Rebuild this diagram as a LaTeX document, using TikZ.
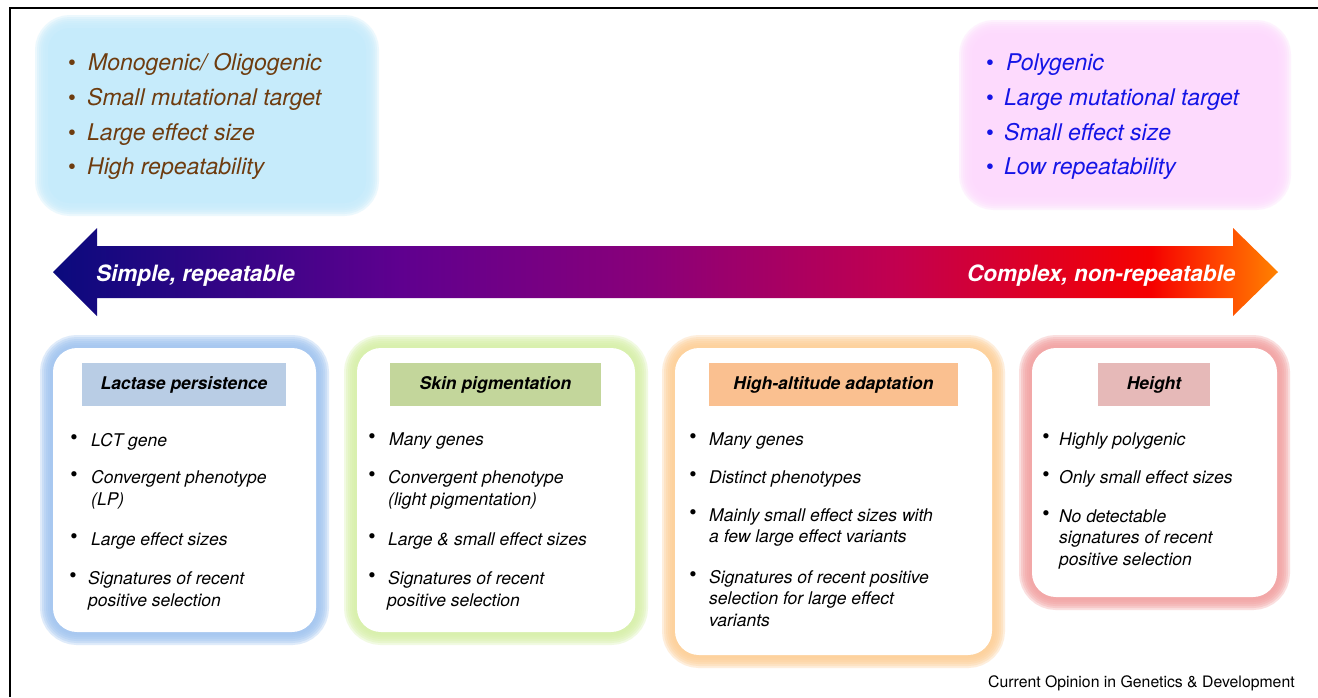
\documentclass[tikz,border=0pt]{standalone}
\usepackage{fontspec}
\setmainfont{TeX Gyre Heros}

% palette
\definecolor{topBlueFill}{RGB}{198,235,251}
\definecolor{topPinkFill}{RGB}{253,218,253}
\definecolor{brownText}{RGB}{110,60,15}
\definecolor{blueText}{RGB}{20,20,230}
\definecolor{glowBlue}{RGB}{160,196,240}
\definecolor{glowGreen}{RGB}{214,240,168}
\definecolor{glowOrange}{RGB}{253,206,150}
\definecolor{glowRed}{RGB}{242,160,160}
\definecolor{hdrBlue}{RGB}{185,205,229}
\definecolor{hdrGreen}{RGB}{195,214,155}
\definecolor{hdrOrange}{RGB}{250,192,144}
\definecolor{hdrRed}{RGB}{230,185,184}
% arrow spectrum
\definecolor{arrA}{RGB}{10,10,125}
\definecolor{arrB}{RGB}{95,0,143}
\definecolor{arrC}{RGB}{138,0,121}
\definecolor{arrD}{RGB}{195,0,78}
\definecolor{arrE}{RGB}{245,0,0}
\definecolor{arrF}{RGB}{255,70,0}
\definecolor{arrG}{RGB}{255,130,0}

\pgfdeclarehorizontalshading{spectrum}{100bp}{color(0bp)=(arrA); color(25bp)=(arrA); color(39.2bp)=(arrB); color(49.4bp)=(arrC); color(59.6bp)=(arrD); color(69.8bp)=(arrE); color(72.6bp)=(arrF); color(75bp)=(arrG); color(100bp)=(arrG)}

% soft halo round a rounded box: #1 colour, #2 #3 corners, #4 radius
\newcommand\halobox[4]{%
  \foreach \w in {26,22,18,14,10,6}{%
    \draw[line width=\w pt, #1, opacity=0.33, rounded corners=#4] #2 rectangle #3;}%
}

\begin{document}
\begin{tikzpicture}[x=1pt,y=-1pt,
  toptxt/.style={anchor=base west, inner sep=0pt, font=\itshape\fontsize{23}{27}\selectfont},
  topdot/.style={anchor=base, inner sep=0pt, font=\fontsize{22.5}{27}\selectfont},
  btxt/.style={anchor=base west, inner sep=0pt, font=\itshape\fontsize{17.5}{21}\selectfont},
  bdot/.style={anchor=base, inner sep=0pt, font=\fontsize{21}{24}\selectfont},
  header/.style={inner sep=0pt, minimum height=43pt, text height=13pt, text depth=4pt,
    font=\bfseries\itshape\fontsize{17.5}{21}\selectfont},
  arrtxt/.style={anchor=base west, inner sep=0pt, text=white,
    font=\bfseries\itshape\fontsize{22.5}{27}\selectfont}]

\useasboundingbox (0,0) rectangle (1318,697);
\fill[white] (0,0) rectangle (1318,697);

% frame
\draw[line width=1.3pt] (10,697) -- (10,8) -- (1318,8);

% ---- upper summary boxes
\halobox{topBlueFill}{(48,28)}{(366,203)}{22pt}
\fill[topBlueFill, rounded corners=22pt] (48,28) rectangle (366,203);
\halobox{topPinkFill}{(972,33)}{(1278,197)}{22pt}
\fill[topPinkFill, rounded corners=22pt] (972,33) rectangle (1278,197);

\begin{scope}[text=brownText]
\node[topdot] (ld1) at (72,70) {•};
\node[toptxt] (lt1) at (88,70) {Monogenic/ Oligogenic};
\node[topdot] (ld2) at (72,105) {•};
\node[toptxt] (lt2) at (87,105) {Small mutational target};
\node[topdot] (ld3) at (72,140) {•};
\node[toptxt] (lt3) at (87,140) {Large effect size};
\node[topdot] (ld4) at (72,174) {•};
\node[toptxt] (lt4) at (87,174) {High repeatability};
\end{scope}

\begin{scope}[text=blueText]
\node[topdot] (rd1) at (990,70) {•};
\node[toptxt] (rt1) at (1006,70) {Polygenic};
\node[topdot] (rd2) at (990,105) {•};
\node[toptxt] (rt2) at (1004,105) {Large mutational target};
\node[topdot] (rd3) at (990,140) {•};
\node[toptxt] (rt3) at (1004,140) {Small effect size};
\node[topdot] (rd4) at (990,174) {•};
\node[toptxt] (rt4) at (1004,174) {Low repeatability};
\end{scope}

% ---- double-headed spectrum arrow
\shade[shading=spectrum] (53,272) -- (97,228) -- (97,246) -- (1233,246) -- (1233,228)
  -- (1278,272) -- (1233,316) -- (1233,298) -- (97,298) -- (97,316) -- cycle;
\node[arrtxt] (simple) at (96,281) {Simple, repeatable};
\node[arrtxt] (complex) at (967,281) {Complex, non-repeatable};

% ---- trait boxes
\halobox{glowBlue}{(53,348)}{(316,632)}{24pt}
\fill[white, rounded corners=24pt] (53,348) rectangle (316,632);
\halobox{glowGreen}{(357,348)}{(635,632)}{24pt}
\fill[white, rounded corners=24pt] (357,348) rectangle (635,632);
\halobox{glowOrange}{(675,348)}{(992,655)}{24pt}
\fill[white, rounded corners=24pt] (675,348) rectangle (992,655);
\halobox{glowRed}{(1032,348)}{(1277,597)}{24pt}
\fill[white, rounded corners=24pt] (1032,348) rectangle (1277,597);

\node[header, fill=hdrBlue, minimum width=204pt] (hLact) at (184,384.5) {Lactase persistence};
\node[header, fill=hdrGreen, minimum width=211pt] (hSkin) at (495.5,384.5) {Skin pigmentation};
\node[header, fill=hdrOrange, minimum width=249pt] (hAlt) at (833.5,384.5) {High-altitude adaptation};
\node[header, fill=hdrRed, minimum width=112pt] (hHgt) at (1154,384.5) {Height};

% lactase persistence
\node[bdot] (a1d) at (74,444.5) {•};
\node[btxt] (a1) at (91,446) {LCT gene};
\node[bdot] (a2d) at (74,481.5) {•};
\node[btxt] (a2) at (91,483) {Convergent phenotype};
\node[btxt] (a2b) at (91,505) {(LP)};
\node[bdot] (a3d) at (74,543.5) {•};
\node[btxt] (a3) at (91,545) {Large effect sizes};
\node[bdot] (a4d) at (73,582.5) {•};
\node[btxt] (a4) at (88,584) {Signatures of recent};
\node[btxt] (a4b) at (88,606) {positive selection};

% skin pigmentation
\node[bdot] (s1d) at (372,443.5) {•};
\node[btxt] (s1) at (389,445) {Many genes};
\node[bdot] (s2d) at (372,481.5) {•};
\node[btxt] (s2) at (388,483) {Convergent phenotype};
\node[btxt] (s2b) at (388,505) {(light pigmentation)};
\node[bdot] (s3d) at (372,543.5) {•};
\node[btxt] (s3) at (388,545) {Large \& small effect sizes};
\node[bdot] (s4d) at (372,582.5) {•};
\node[btxt] (s4) at (388,584) {Signatures of recent};
\node[btxt] (s4b) at (387,606) {positive selection};

% high-altitude adaptation
\node[bdot] (h1d) at (693,443.5) {•};
\node[btxt] (h1) at (709,445) {Many genes};
\node[bdot] (h2d) at (693,481.5) {•};
\node[btxt] (h2) at (709,483) {Distinct phenotypes};
\node[bdot] (h3d) at (693,519.5) {•};
\node[btxt] (h3) at (709,521) {Mainly small effect sizes with};
\node[btxt] (h3b) at (709,542) {a few large effect variants};
\node[bdot] (h4d) at (693,581.5) {•};
\node[btxt] (h4) at (709,583) {Signatures of recent positive};
\node[btxt] (h4b) at (709,604) {selection for large effect};
\node[btxt] (h4c) at (709,626) {variants};

% height
\node[bdot] (g1d) at (1046,443.5) {•};
\node[btxt] (g1) at (1059,445) {Highly polygenic};
\node[bdot] (g2d) at (1046,481.5) {•};
\node[btxt] (g2) at (1059,483) {Only small effect sizes};
\node[bdot] (g3d) at (1046,520.5) {•};
\node[btxt] (g3) at (1059,522) {No detectable};
\node[btxt] (g3b) at (1059,543) {signatures of recent};
\node[btxt] (g3c) at (1059,565) {positive selection};

% journal credit
\node[anchor=base west, inner sep=0pt, font=\fontsize{15.8}{19}\selectfont] (credit) at (988,687)
  {Current Opinion in Genetics \& Development};

\end{tikzpicture}
\end{document}
